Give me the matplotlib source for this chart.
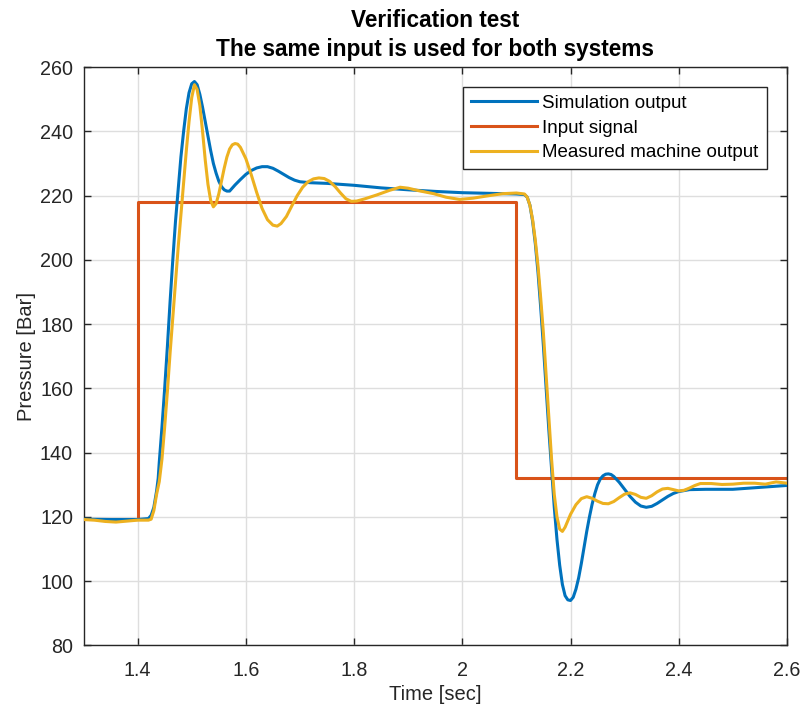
import matplotlib
matplotlib.use("Agg")
import matplotlib.pyplot as plt

# Simulation output (time [s], pressure [bar])
sim_t = [1.30, 1.35, 1.40, 1.42, 1.425, 1.43, 1.435, 1.438, 1.44, 1.445, 1.45, 1.455, 1.46,
         1.465, 1.47, 1.475, 1.48, 1.485, 1.49, 1.495, 1.50, 1.505, 1.51, 1.515, 1.52,
         1.525, 1.53, 1.535, 1.54, 1.545, 1.55, 1.555, 1.56, 1.565, 1.57, 1.58, 1.59,
         1.60, 1.61, 1.62, 1.63, 1.64, 1.65, 1.66, 1.67, 1.68, 1.69, 1.70, 1.72, 1.75,
         1.80, 1.85, 1.90, 1.95, 2.00, 2.05, 2.10, 2.115, 2.12, 2.125, 2.13, 2.135,
         2.14, 2.145, 2.15, 2.155, 2.16, 2.165, 2.17, 2.175, 2.18, 2.185, 2.19, 2.195,
         2.20, 2.205, 2.21, 2.215, 2.22, 2.225, 2.23, 2.235, 2.24, 2.245, 2.25, 2.255,
         2.26, 2.265, 2.27, 2.275, 2.28, 2.29, 2.30, 2.31, 2.32, 2.33, 2.34, 2.35, 2.36,
         2.37, 2.38, 2.39, 2.40, 2.42, 2.45, 2.50, 2.55, 2.60]
sim_p = [119.3, 119.2, 119.2, 119.5, 120.5, 123, 128, 132, 137, 148, 160, 173, 187,
         200, 212, 222, 232, 240, 247, 252, 254.8, 255.5, 254.5, 251.5, 247.5,
         243, 238.5, 234, 230, 227, 224.5, 222.8, 221.8, 221.4, 221.4, 223.3, 225,
         226.6, 227.8, 228.6, 229, 229, 228.5, 227.6, 226.6, 225.6, 224.8, 224.3, 224, 223.8,
         223.2, 222.4, 221.8, 221.3, 220.9, 220.7, 220.5, 220.3, 219.5, 217, 212, 205,
         196, 185, 173, 160, 147, 135, 123, 113, 105, 99, 95.5, 94.2,
         94, 95, 97.5, 101, 105.5, 110.5, 115.5, 120, 124, 127.3, 130, 131.8,
         132.8, 133.3, 133.4, 133.2, 132.6, 130.8, 128.6, 126.4, 124.6, 123.4, 123, 123.3, 124.2,
         125.3, 126.4, 127.3, 127.9, 128.5, 128.6, 128.6, 129.2, 129.8]

# Input signal (step changes)
inp_t = [1.30, 1.40, 1.40, 2.10, 2.10, 2.60]
inp_p = [119.3, 119.3, 218, 218, 132, 132]

# Measured machine output
meas_t = [1.30, 1.32, 1.34, 1.36, 1.38, 1.40, 1.42, 1.425, 1.43, 1.435, 1.44, 1.445,
          1.45, 1.455, 1.46, 1.465, 1.47, 1.475, 1.48, 1.485, 1.49, 1.495, 1.50, 1.505,
          1.51, 1.515, 1.52, 1.525, 1.53, 1.535, 1.54, 1.545, 1.55, 1.555, 1.56, 1.565,
          1.57, 1.575, 1.58, 1.585, 1.59, 1.60, 1.61, 1.62, 1.63, 1.64, 1.65, 1.658,
          1.665, 1.675, 1.685, 1.695, 1.705, 1.715, 1.725, 1.735, 1.745, 1.755, 1.765,
          1.775, 1.785, 1.795, 1.805, 1.82, 1.842, 1.865, 1.885, 1.90, 1.92, 1.947,
          1.97, 1.995, 2.02, 2.05, 2.075, 2.10, 2.115, 2.12, 2.125, 2.13, 2.135, 2.14,
          2.145, 2.15, 2.155, 2.16, 2.165, 2.17, 2.175, 2.18, 2.185, 2.19, 2.195, 2.20,
          2.21, 2.22, 2.23, 2.24, 2.25, 2.26, 2.27, 2.28, 2.29, 2.30, 2.31, 2.32, 2.33,
          2.34, 2.35, 2.36, 2.37, 2.38, 2.39, 2.40, 2.41, 2.42, 2.43, 2.44, 2.46, 2.48,
          2.50, 2.52, 2.54, 2.56, 2.58, 2.60]
meas_p = [119.2, 119.0, 118.6, 118.4, 118.7, 119.0, 119.0, 119.3, 122, 127, 131, 138,
          148, 159, 171, 182, 193, 204, 214, 224, 234, 243, 250.5, 254.5,
          253, 248, 240, 231, 223.5, 218.5, 216.5, 217.5, 220.5, 224.5, 228.5, 232,
          234.5, 235.8, 236.2, 236, 235, 231.5, 226.5, 221, 216, 212.5, 210.8, 210.5,
          211.3, 213.5, 216.8, 220, 222.6, 224.3, 225.2, 225.5, 225.3, 224.4, 222.8,
          220.8, 219, 218.2, 218.3, 219, 220.2, 221.6, 222.6, 222.3, 221.5, 220.6,
          219.5, 218.8, 219.2, 220, 220.6, 220.8, 220.5, 219.5, 217, 212.5, 206, 198,
          188, 177, 164, 151, 138, 127, 120, 116.2, 115.5, 116.8, 118.8, 120.8,
          123.8, 125.7, 126.3, 125.8, 124.9, 124.2, 124.1, 124.8, 126, 127.1, 127.5, 127, 126.1,
          125.8, 126.6, 127.8, 128.7, 128.9, 128.5, 128.1, 128.3, 129, 129.8, 130.4, 130.4, 130.1,
          130.2, 130.5, 130.5, 130.2, 130.9, 130.5]

x_ticks = [1.4, 1.6, 1.8, 2.0, 2.2, 2.4, 2.6]
x_tick_labels = ["1.4", "1.6", "1.8", "2", "2.2", "2.4", "2.6"]
y_ticks = [80, 100, 120, 140, 160, 180, 200, 220, 240, 260]

plt.rcParams["font.family"] = ["Liberation Sans", "DejaVu Sans"]

fig = plt.figure(figsize=(8.03, 7.08), dpi=100)
ax = fig.add_axes([0.104, 0.0883, 0.876, 0.817])

lw = 2.2
ax.plot(sim_t, sim_p, color="#0072BD", lw=lw, label="Simulation output", zorder=3)
ax.plot(inp_t, inp_p, color="#D95319", lw=lw, label="Input signal", zorder=2)
ax.plot(meas_t, meas_p, color="#EDB120", lw=lw, label="Measured machine output", zorder=4)

ax.set_xlim(1.3, 2.6)
ax.set_ylim(80, 260)
ax.set_xticks(x_ticks)
ax.set_xticklabels(x_tick_labels)
ax.set_yticks(y_ticks)

ax.grid(True, color="#dedede", lw=1.0)
ax.set_axisbelow(True)
for s in ax.spines.values():
    s.set_color("#262626")
    s.set_linewidth(1.0)
ax.tick_params(direction="in", length=5, width=1.0, colors="#262626",
               labelsize=14.2, top=True, right=True, pad=7.5)
ax.tick_params(axis="x", pad=11)
for lab in ax.get_xticklabels() + ax.get_yticklabels():
    lab.set_color("#262626")

ax.set_xlabel("Time [sec]", fontsize=14.5, color="#262626", labelpad=4)
ax.set_ylabel("Pressure [Bar]", fontsize=14.5, color="#262626", labelpad=3)
ax.set_title("Verification test\nThe same input is used for both systems",
             fontsize=16.3, fontweight="bold", color="black", pad=8, linespacing=1.35)

leg = ax.legend(loc="upper right", bbox_to_anchor=(0.971, 0.966), fontsize=13.5,
                frameon=True, fancybox=False, edgecolor="#262626", framealpha=1,
                handlelength=3.5, handletextpad=0.3, borderpad=0.42, labelspacing=0.41,
                borderaxespad=0)
leg.get_frame().set_linewidth(1.0)

fig.savefig("out.png", dpi=100)
